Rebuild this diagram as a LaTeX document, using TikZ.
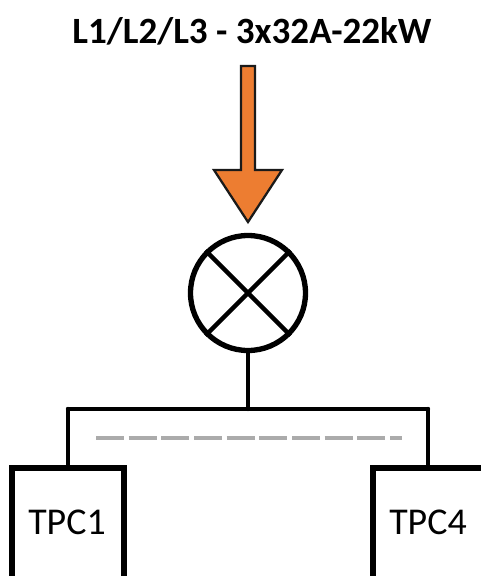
\documentclass[tikz,border=0pt]{standalone}
\usepackage{fontspec}
\setmainfont{Carlito}
\definecolor{arrowor}{HTML}{ED7D31}
\definecolor{arrowedge}{HTML}{1A1A1A}
\definecolor{dashgray}{HTML}{ABABAB}
\tikzset{x=0.75pt,y=-0.75pt,
 wire/.style={line width=3.3pt,draw=black,line cap=round},
 tpcbox/.style={draw=black,line width=4.2pt,fill=white}}
\begin{document}
\begin{tikzpicture}
\useasboundingbox (0,0) rectangle (481,576);
\node[font=\bfseries\fontsize{27.8}{32}\selectfont,anchor=center] (title) at (252,31) {L1/L2/L3 - 3x32A-22kW};
\draw[fill=arrowor,draw=arrowedge,line width=1.7pt,line join=miter] (241,66)--(255,66)--(255,170)--(282,170)--(248,222)--(214,170)--(241,170)--cycle;
\node[circle,draw=black,line width=4pt,minimum size=115*0.75pt,inner sep=0pt] (lamp) at (248,293) {};
\draw[line width=3.3pt] (lamp.north west)--(lamp.south east);
\draw[line width=3.3pt] (lamp.north east)--(lamp.south west);
\coordinate (top) at (248,409);
\coordinate (tl) at (68,409);
\coordinate (tr) at (428,409);
\draw[wire] (lamp.south)--(top);
\draw[wire] (tl)--(tr);
\coordinate (al) at (68,467);
\coordinate (bl) at (428,467);
\draw[wire] (tl)--(al);
\draw[wire] (tr)--(bl);
\draw[tpcbox] (12,590)--(12,468)--(124,468)--(124,590);
\draw[tpcbox] (373,590)--(373,468)--(485,468)--(485,590);
\node[font=\fontsize{28.4}{34}\selectfont] (a) at (67,522) {TPC1};
\node[font=\fontsize{28.4}{34}\selectfont] (b) at (428,522) {TPC4};
\coordinate (d1) at (96,438);
\coordinate (d2) at (401.5,438);
\draw[draw=dashgray,line width=3.6pt,dash pattern=on 21pt off 3.5pt] (d1)--(d2);
\end{tikzpicture}
\end{document}
